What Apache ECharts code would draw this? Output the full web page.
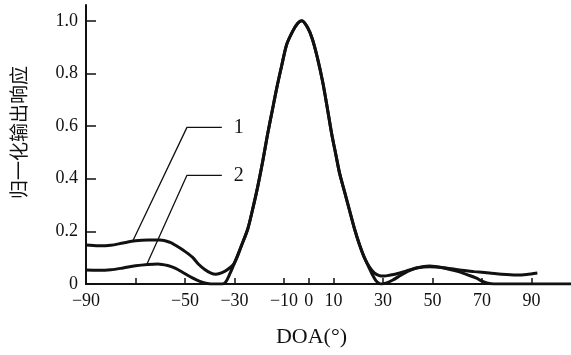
<!DOCTYPE html>
<html>
<head>
<meta charset="utf-8">
<script src="https://cdn.jsdelivr.net/npm/echarts@6/dist/echarts.min.js"></script>
<style>
  html, body { margin: 0; padding: 0; background: #fff; }
  #chart { width: 571px; height: 355px; }
</style>
</head>
<body>
<div id="chart"></div>
<script>
// shared main lobe (DOA deg, normalized response)
const mainLobe = [
  [-30, 0.08], [-27, 0.15], [-24.6, 0.21], [-22.5, 0.29], [-20.6, 0.37],
  [-18.5, 0.47], [-16.6, 0.57], [-14.7, 0.66], [-12.9, 0.745], [-10.9, 0.83],
  [-8.9, 0.91], [-6.5, 0.96], [-4.5, 0.99], [-2.8, 1.0], [-0.5, 0.975],
  [1.5, 0.93], [3.5, 0.86], [5.6, 0.77], [7.5, 0.67], [9.3, 0.57],
  [11, 0.49], [12.5, 0.42], [14.5, 0.35], [16.5, 0.28], [18.5, 0.21],
  [20.5, 0.15], [22.5, 0.1]
];

const curve1Left = [
  [-90, 0.148], [-85, 0.145], [-80, 0.147], [-75, 0.156], [-70, 0.164],
  [-65, 0.167], [-60, 0.167], [-56, 0.158], [-54, 0.148], [-50.5, 0.127],
  [-47, 0.102], [-44.5, 0.075], [-42, 0.055], [-39.5, 0.041], [-37.5, 0.037],
  [-35, 0.043], [-32.5, 0.057]
];
const curve1Right = [
  [24.5, 0.065], [26.5, 0.042], [28.5, 0.032], [30.5, 0.03], [33, 0.034],
  [36, 0.04], [39.5, 0.05], [44, 0.062], [48.8, 0.066], [54, 0.063],
  [60.9, 0.053], [67, 0.047], [73, 0.042], [78, 0.037], [83.9, 0.034],
  [88, 0.036], [92.4, 0.042]
];

const curve2Left = [
  [-90, 0.053], [-85, 0.052], [-80, 0.054], [-75, 0.061], [-70, 0.069],
  [-65, 0.074], [-61, 0.076], [-57, 0.07], [-54, 0.06], [-50.5, 0.042],
  [-47, 0.023], [-44, 0.01], [-41, 0.002], [-38, 0], [-35, 0],
  [-33.5, 0.008], [-31.8, 0.04]
];
const curve2Right = [
  [24, 0.07], [25.5, 0.04], [27, 0.015], [28.5, 0.002], [29.5, 0],
  [31.5, 0.004], [34, 0.015], [37, 0.032], [40, 0.048], [44, 0.062],
  [48.8, 0.068], [54, 0.062], [60.9, 0.046], [64.5, 0.034], [67.8, 0.022],
  [70, 0.011], [72, 0.004], [75, 0], [106, 0]
];

// leader lines to the curve numbers
const leader1 = [[-71, 0.165], [-49.2, 0.595], [-35.1, 0.595]];
const leader2 = [[-65.4, 0.075], [-49.2, 0.413], [-35.1, 0.413]];

const xTicks = [-70, -50, -30, -10, 0, 10, 30, 50, 70, 90];
const xLabels = [-90, -50, -30, -10, 0, 10, 30, 50, 70, 90];
const yLabels = [0, 0.2, 0.4, 0.6, 0.8, 1.0];

const serif = "Liberation Serif";
const ink = "#111";

const chart = echarts.init(document.getElementById("chart"));

const curveSeries = (data) => ({
  type: "line",
  data,
  smooth: 0.3,
  showSymbol: false,
  lineStyle: { color: ink, width: 3 },
  z: 3
});

const leaderSeries = (data, text) => ({
  type: "line",
  data,
  showSymbol: false,
  lineStyle: { color: ink, width: 1.3 },
  endLabel: {
    show: true,
    formatter: text,
    distance: 12,
    color: ink,
    fontFamily: serif,
    fontSize: 20
  },
  z: 2
});

chart.setOption({
  animation: false,
  backgroundColor: "#fff",
  grid: { left: 86, right: 0, top: 5, bottom: 71 },
  xAxis: {
    type: "value",
    min: -90,
    max: 106,
    name: "DOA(°)",
    nameLocation: "middle",
    nameGap: 42,
    nameTextStyle: { fontFamily: serif, fontSize: 22, color: ink, padding: [0, 34, 0, 0] },
    axisLine: { onZero: false, lineStyle: { color: ink, width: 2 } },
    axisTick: { inside: true, length: 6, customValues: xTicks, lineStyle: { color: ink, width: 1.5 } },
    axisLabel: {
      customValues: xLabels,
      formatter: (v) => (v < 0 ? "\u2212" + -v : String(v)),
      fontFamily: serif,
      fontSize: 18,
      color: ink,
      margin: 8
    },
    splitLine: { show: false }
  },
  yAxis: {
    type: "value",
    min: 0,
    max: 1.06,
    name: "归一化输出响应",
    nameLocation: "middle",
    nameRotate: 90,
    nameGap: 58,
    nameTextStyle: { fontFamily: "Noto Sans CJK SC", fontSize: 19, color: ink, padding: [0, 0, 0, 24] },
    axisLine: { onZero: false, lineStyle: { color: ink, width: 2 } },
    axisTick: { inside: true, length: 10, customValues: yLabels, lineStyle: { color: ink, width: 1.5 } },
    axisLabel: {
      customValues: yLabels,
      formatter: (v) => (v === 0 ? "0" : v.toFixed(1)),
      fontFamily: serif,
      fontSize: 18,
      color: ink,
      margin: 8
    },
    splitLine: { show: false }
  },
  series: [
    curveSeries(curve1Left.concat(mainLobe, curve1Right)),
    curveSeries(curve2Left.concat(mainLobe, curve2Right)),
    leaderSeries(leader1, "1"),
    leaderSeries(leader2, "2")
  ]
});
</script>
</body>
</html>
